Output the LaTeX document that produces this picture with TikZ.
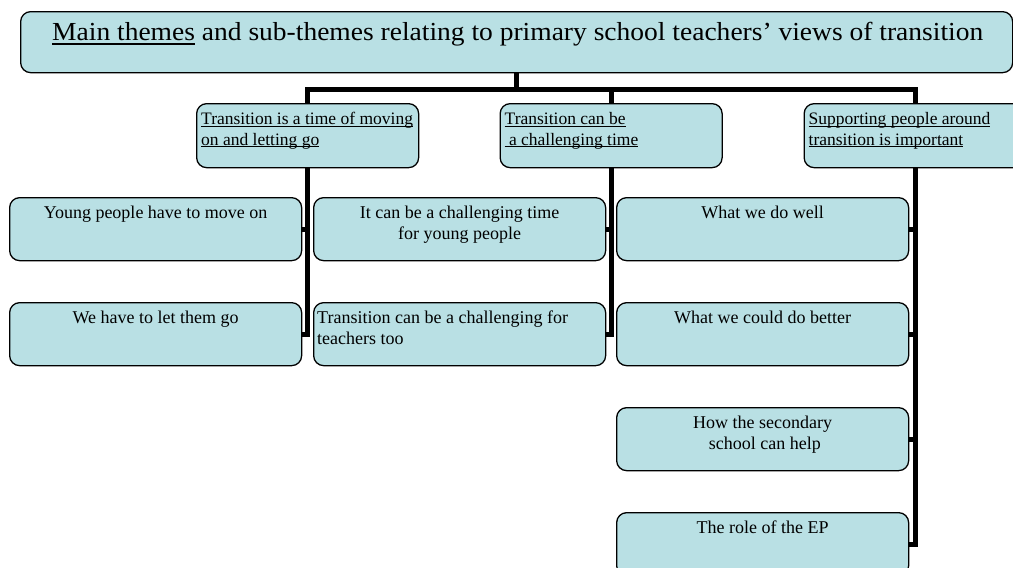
\documentclass[tikz,border=0pt]{standalone}
\usepackage{fontspec}
\setmainfont{Liberation Serif}
\usepackage{graphicx}
\usetikzlibrary{calc}
\definecolor{boxfill}{RGB}{185,224,228}
\newcommand{\myuline}[1]{\setbox0=\hbox{#1}\leavevmode\rlap{\rule[-2.2pt]{\wd0}{0.9pt}}\box0\relax}
\newcommand{\titleuline}[1]{\setbox0=\hbox{#1}\leavevmode\rlap{\rule[-5pt]{\wd0}{2pt}}\box0\relax}
\tikzset{
  basebox/.style={draw=black, line width=1.3pt, fill=boxfill, rounded corners=10pt, inner sep=0pt, anchor=north west},
  topbox/.style={basebox, minimum width=992pt, minimum height=61pt},
  lvtwo/.style={basebox, minimum width=222pt, minimum height=64pt},
  lvthree/.style={basebox, minimum width=292pt, minimum height=63pt},
  titletxt/.style={inner sep=0pt, anchor=base west, font=\fontsize{26}{30}\selectfont},
  twotxt/.style={inner sep=0pt, anchor=base west, font=\fontsize{17.5}{20.5}\selectfont},
  threec/.style={inner sep=0pt, anchor=base, font=\fontsize{18}{21}\selectfont},
  threel/.style={inner sep=0pt, anchor=base west, font=\fontsize{18}{21}\selectfont},
  conn/.style={draw=black, line width=5pt, line join=miter},
}
\begin{document}
\begin{tikzpicture}[x=1pt, y=-1pt]
\useasboundingbox (0,0) rectangle (1013,568);
\clip (0,0) rectangle (1013,568);
% boxes
\node[topbox] (top) at (20,11) {};
\node[lvtwo] (ba) at (196,103) {};
\node[lvtwo] (bb) at (499.5,103) {};
\node[lvtwo] (bc) at (803.5,103) {};
\node[lvthree] (a1) at (9,197) {};
\node[lvthree] (a2) at (9,302) {};
\node[lvthree] (c1) at (313,197) {};
\node[lvthree] (c2) at (313,302) {};
\node[lvthree] (s1) at (616,197) {};
\node[lvthree] (s2) at (616,302) {};
\node[lvthree] (s3) at (616,407) {};
\node[lvthree] (s4) at (616,512) {};
% texts
\node[titletxt] (toptxt) at ($(top.north west)+(32,29)$) {\resizebox{931pt}{\height}{\titleuline{Main themes} and sub-themes relating to primary school teachers’ views of transition}};
\node[twotxt] (batxt) at ($(ba.north west)+(5,21.5)$) {\parbox[t]{220pt}{\raggedright\myuline{Transition is a time of moving}\\\myuline{on and letting go}}};
\node[twotxt] (bbtxt) at ($(bb.north west)+(5,21.5)$) {\parbox[t]{220pt}{\raggedright\myuline{Transition can be}\\\myuline{\ a challenging time}}};
\node[twotxt] (bctxt) at ($(bc.north west)+(5,21.5)$) {\parbox[t]{220pt}{\raggedright\myuline{Supporting people around}\\\myuline{transition is important}}};
\node[threec] (a1txt) at ($(a1.north)+(0,21)$) {\parbox[t]{280pt}{\centering Young people have to move on}};
\node[threec] (a2txt) at ($(a2.north)+(0,21)$) {\parbox[t]{280pt}{\centering We have to let them go}};
\node[threec] (c1txt) at ($(c1.north)+(0,21)$) {\parbox[t]{280pt}{\centering It can be a challenging time\\for young people}};
\node[threel] (c2txt) at ($(c2.north west)+(4,21)$) {\parbox[t]{286pt}{\raggedright Transition can be a challenging for\\teachers too}};
\node[threec] (s1txt) at ($(s1.north)+(0,21)$) {\parbox[t]{280pt}{\centering What we do well}};
\node[threec] (s2txt) at ($(s2.north)+(0,21)$) {\parbox[t]{280pt}{\centering What we could do better}};
\node[threec] (s3txt) at ($(s3.north)+(0,21)$) {\parbox[t]{280pt}{\centering How the secondary\\\ school can help}};
\node[threec] (s4txt) at ($(s4.north)+(0,21)$) {\parbox[t]{280pt}{\centering The role of the EP}};
% connectors
\coordinate (bar) at (0,89);
\draw[conn] (top.south) -- (top.south |- bar);
\draw[conn] (ba.north) |- (bc.north |- bar) -- (bc.north);
\draw[conn] (bb.north) -- (bb.north |- bar);
\draw[conn] (ba.south) |- (a2.east);
\draw[conn] (a1.east) -- (a1.east -| ba.south);
\draw[conn] (bb.south) |- (c2.east);
\draw[conn] (c1.east) -- (c1.east -| bb.south);
\draw[conn] (bc.south) |- (s4.east);
\draw[conn] (s1.east) -- (s1.east -| bc.south);
\draw[conn] (s2.east) -- (s2.east -| bc.south);
\draw[conn] (s3.east) -- (s3.east -| bc.south);
\end{tikzpicture}
\end{document}
